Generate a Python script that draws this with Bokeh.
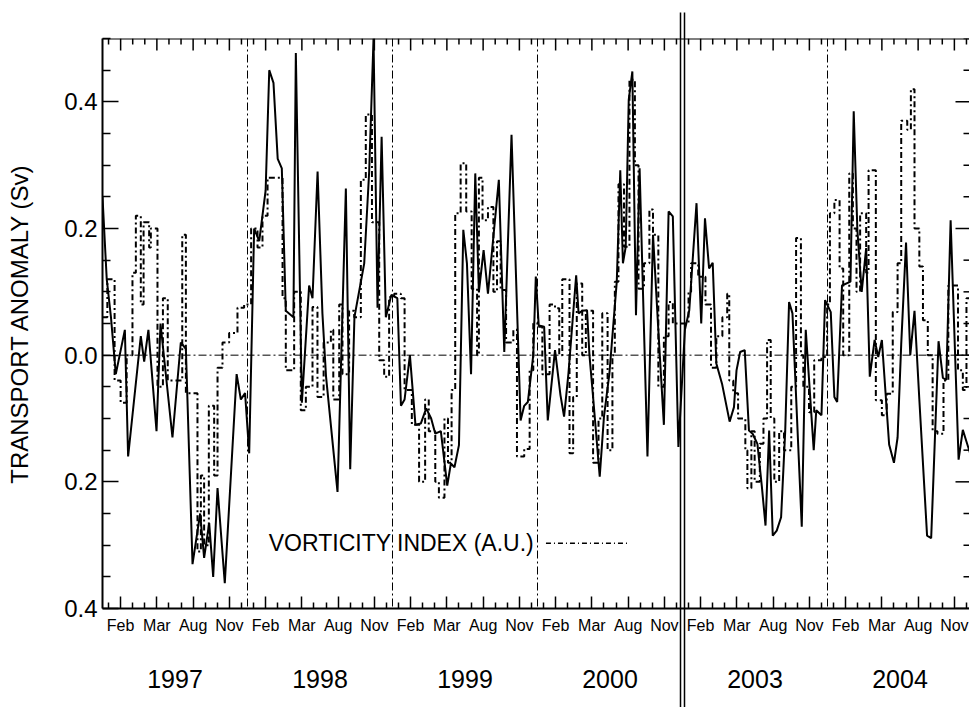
from bokeh.plotting import figure
from bokeh.models import Range1d, LinearAxis, FixedTicker, Span, Label
from bokeh.embed import file_html
from bokeh.resources import INLINE

FONT = "Liberation Sans"

# ---------------- data (x in months since Jan of first plotted year) ----------------
years = ["1997", "1998", "1999", "2000", "2003", "2004"]
month_labels = ["Feb", "Mar", "Aug", "Nov"]
month_label_pos = [1.5, 4.5, 7.5, 10.5]
y_ticks = [-0.4, -0.2, 0.0, 0.2, 0.4]
y_tick_labels = ["0.4", "0.2", "0.0", "0.2", "0.4"]

transport_t = [
    0.0, 0.35, 0.7, 1.1, 1.85, 2.12, 3.17, 3.45, 3.8, 4.47, 4.8, 5.79, 6.48, 6.9,
    7.45, 8.08, 8.41, 8.83, 9.16, 9.52, 10.12, 11.1, 11.45, 11.8, 12.14,
    12.55, 12.97, 13.5, 13.8, 14.15, 14.5, 14.84, 15.17, 15.8, 16.0, 16.5, 17.1,
    17.38, 17.8, 18.2, 18.5, 19.45, 20.14, 20.5, 20.85, 21.66, 22.07, 22.43,
    22.76, 23.1, 23.45, 23.9, 24.4,
    24.7, 25.0, 25.44, 25.9, 26.34, 26.79, 27.2, 27.54, 28.0, 28.53, 28.83,
    29.13, 29.5, 29.86, 30.16, 30.5, 30.85, 31.15, 31.54, 31.9, 32.8, 33.25,
    33.85, 34.6, 34.9, 35.2, 35.65,
    35.86, 36.1, 36.55, 36.85, 37.45, 37.9, 38.2, 38.56, 39.2, 39.4, 39.7, 40.1,
    40.3, 40.6, 41.15, 41.5, 41.95, 42.56, 42.85, 43.07, 43.3, 43.55, 43.85,
    44.15, 44.45, 44.8, 45.1, 45.56, 46.0, 46.46, 46.85, 47.2, 47.66,
    48.2, 48.56, 49.16, 49.55, 49.86, 50.2, 50.5, 50.8, 51.27, 51.9, 52.26,
    52.47, 52.77, 53.15, 53.5, 53.8, 54.2, 54.57, 54.87, 55.17, 55.47, 55.8,
    56.16, 56.5, 56.82, 57.1, 57.87, 58.2, 58.86, 59.07, 59.5, 59.8, 60.27,
    60.57, 60.8, 61.2, 61.9, 62.17, 62.47, 62.83, 63.2, 63.5, 63.9, 64.2, 64.5,
    65.1, 65.5, 65.8, 66.1, 66.5, 66.85, 67.2, 67.6, 68.24, 68.58, 69.19, 69.55,
    69.83, 70.19, 70.85, 71.2, 71.77, 72.0,
]
transport_v = [
    0.25, 0.12, 0.06, -0.03, 0.04, -0.16, 0.03, -0.01, 0.04, -0.12, 0.05, -0.13, 0.02, 0.01,
    -0.33, -0.25, -0.32, -0.265, -0.35, -0.21, -0.36, -0.03, -0.07, -0.06, -0.155,
    0.2, 0.18, 0.26, 0.45, 0.43, 0.31, 0.295, 0.07, 0.06, 0.477, -0.075, 0.11,
    0.09, 0.29, 0.066, -0.034, -0.216, 0.263, -0.18, 0.06, 0.145, 0.29, 0.5,
    0.075, 0.345, 0.06, 0.095, 0.09,
    -0.08, -0.07, 0.0, -0.11, -0.108, -0.084, -0.1, -0.124, -0.12, -0.206, -0.171,
    -0.177, -0.142, 0.198, 0.145, -0.03, 0.287, 0.1, 0.166, 0.097, 0.277, 0.005,
    0.348, -0.103, -0.08, -0.074, 0.0,
    0.124, 0.047, 0.045, -0.103, 0.008, -0.063, -0.097, -0.029, 0.126, 0.066, 0.07, 0.071,
    0.0, -0.066, -0.192, -0.097, -0.029, 0.116, 0.292, 0.145, 0.171, 0.403, 0.448,
    0.063, 0.295, 0.05, -0.16, 0.19, 0.04, -0.11, 0.227, 0.219, -0.145,
    0.04, 0.071, 0.24, 0.05, 0.216, 0.137, 0.146, -0.013, -0.045, -0.105, -0.082,
    -0.024, 0.005, 0.008, -0.119, -0.124, -0.14, -0.208, -0.269, -0.119, -0.285, -0.277,
    -0.256, -0.12, 0.084, 0.066, -0.271, 0.04, -0.15, -0.087, -0.095, 0.087, 0.068,
    -0.066, -0.074, 0.11, 0.116, 0.385, 0.198, 0.1, 0.169, -0.034, 0.024, -0.003, 0.024,
    -0.141, -0.17, -0.13, 0.017, 0.178, 0.0, 0.07, -0.07, -0.285, -0.289, 0.022, -0.036,
    -0.039, 0.213, -0.165, -0.118, -0.153, -0.17,
]

vort_t = [
    0.0, 0.4, 1.0, 1.5, 2.0, 2.48, 2.76, 3.17, 3.4, 3.86, 4.0, 4.55, 5.0, 5.4,
    6.6, 6.9, 7.86, 8.14, 8.41, 8.8, 9.24, 9.52, 9.93, 10.48, 11.17, 11.72,
    12.3, 12.83, 13.24, 13.66, 14.9, 15.17, 15.86, 16.41, 16.83, 17.38, 17.79,
    18.3, 18.9, 19.1, 19.59, 19.86, 20.41, 20.83, 21.38, 21.79, 22.3, 22.9,
    23.31, 23.72, 24.14,
    24.69, 25.0, 25.6, 26.2, 26.7, 27.0, 27.54, 27.84, 28.3, 28.59, 28.89, 29.19,
    29.64, 30.1, 30.55, 31.0, 31.15, 31.45, 31.9, 32.35, 32.65, 32.95, 33.4, 34.0,
    34.3, 34.9, 35.35, 35.65,
    36.1, 36.4, 37.0, 37.45, 37.8, 38.05, 38.65, 38.95, 39.25, 39.7, 40.0, 40.6,
    41.05, 41.36, 41.8, 42.2, 42.4, 42.7, 43.16, 43.61, 44.06, 44.36, 44.81,
    45.26, 45.56, 46.0, 46.46, 46.85, 47.2,
    48.5, 48.71, 49.3, 49.9, 50.36, 50.8, 51.3, 51.7, 51.87, 52.2, 52.6, 53.2,
    53.37, 53.7, 53.97, 54.4, 54.7, 55.0, 55.3, 55.6, 56.0, 56.4, 57.0, 57.4,
    57.8, 58.0, 58.47, 58.9, 59.5,
    59.97, 60.2, 60.57, 61.0, 61.3, 61.8, 62.1, 62.4, 62.7, 63.2, 63.4, 64.0,
    64.5, 64.9, 65.4, 65.8, 66.1, 66.6, 66.9, 67.2, 67.6, 67.9, 68.3, 68.7,
    69.1, 69.6, 70.0, 70.5, 70.8, 71.2, 71.5,
]
vort_v = [
    0.06, 0.12, -0.04, -0.075, 0.0, 0.13, 0.22, 0.08, 0.21, 0.17, 0.2, -0.05, 0.09, -0.04,
    0.19, -0.06, -0.31, -0.19, -0.3, -0.08, -0.19, -0.02, 0.02, 0.035, 0.075, 0.08,
    0.2, 0.17, 0.22, 0.28, 0.09, -0.024, 0.1, -0.087, -0.05, 0.076, -0.066,
    0.02, 0.04, -0.07, 0.08, -0.03, 0.07, 0.06, 0.277, 0.38, 0.21, -0.008,
    -0.034, 0.092, 0.097,
    0.09, -0.055, -0.11, -0.2, -0.07, -0.12, -0.2, -0.225, -0.1, -0.17, -0.055, 0.224,
    0.303, 0.227, 0.105, 0.0, 0.28, 0.213, 0.234, 0.1, 0.18, 0.103, 0.02, 0.04,
    -0.16, -0.148, -0.024, 0.05,
    0.045, -0.03, 0.08, 0.074, 0.0, 0.12, -0.155, -0.066, 0.113, 0.0, 0.07, -0.17,
    -0.1, 0.066, -0.15, 0.0, 0.116, 0.27, 0.171, 0.435, 0.3, 0.105, 0.145,
    0.23, 0.19, -0.05, 0.03, 0.084, 0.05,
    0.1, 0.145, 0.124, 0.08, -0.02, 0.03, 0.06, 0.097, -0.04, -0.06, -0.1, -0.15,
    -0.21, -0.12, -0.2, -0.14, -0.1, 0.024, -0.1, -0.2, -0.12, -0.15, -0.05, 0.185,
    0.0, -0.05, -0.09, -0.008, -0.003,
    0.08, 0.224, 0.245, 0.137, 0.0, 0.287, 0.2, 0.1, 0.224, 0.13, 0.292, -0.071,
    -0.095, -0.061, 0.068, 0.145, 0.37, 0.356, 0.42, 0.2, 0.14, 0.055, 0.0, -0.12,
    -0.124, -0.04, 0.11, 0.11, -0.024, -0.055, 0.09,
]

y_label = "TRANSPORT ANOMALY (Sv)"
legend_label = "VORTICITY INDEX (A.U.)"

# ---------------- derived ----------------
n_years = len(years)
x_end_total = 12 * n_years
major_x = [12 * i + m for i in range(n_years) for m in month_label_pos]
all_month_centres = [k + 0.5 for k in range(x_end_total)]
minor_x = [t for t in all_month_centres if t not in major_x]
month_overrides = {12 * i + m: lab for i in range(n_years) for m, lab in zip(month_label_pos, month_labels)}
year_mid = [12 * i + 6 for i in range(n_years)]
year_overrides = {12 * i + 6: y for i, y in enumerate(years)}
Y0, Y1 = -0.4, 0.5
y_minor = [round(Y0 + 0.05 * k, 2) for k in range(19)]
y_minor = [v for v in y_minor if v not in y_ticks]
y_overrides = {v: s for v, s in zip(y_ticks, y_tick_labels)}

PX_PER_MONTH = 870.0 / 72.0
FRAME_W = 867
FRAME_H = 570
TOP = 38
BOTTOM = 99
X_END = FRAME_W / PX_PER_MONTH
PX_PER_Y = FRAME_H / (Y1 - Y0)

p = figure(
    frame_width=FRAME_W, frame_height=FRAME_H,
    x_range=Range1d(0, X_END), y_range=Range1d(Y0, Y1),
    output_backend="svg", toolbar_location=None,
    x_axis_location=None, y_axis_location=None,
    min_border_left=102, min_border_top=TOP, min_border_bottom=BOTTOM, min_border_right=0,
)
p.outline_line_color = None
p.xgrid.visible = False
p.ygrid.visible = False
p.background_fill_color = "white"
p.border_fill_color = "white"

def style_ticks(ax, maj, mnr):
    ax.major_tick_in = maj
    ax.major_tick_out = 0
    ax.minor_tick_in = mnr
    ax.minor_tick_out = 0
    ax.major_tick_line_width = 1.5
    ax.minor_tick_line_width = 1.5
    ax.major_tick_line_color = "black"
    ax.minor_tick_line_color = "black"
    ax.axis_line_width = 2
    ax.axis_line_color = "black"

# bottom month axis
xb = LinearAxis(ticker=FixedTicker(ticks=major_x, minor_ticks=minor_x),
                major_label_overrides=month_overrides)
style_ticks(xb, 12, 6)
xb.major_label_text_font = FONT
xb.major_label_text_font_size = "16px"
xb.major_label_text_color = "black"
xb.major_label_standoff = 8
p.add_layout(xb, "below")

# year labels axis
xy = LinearAxis(ticker=FixedTicker(ticks=year_mid, minor_ticks=[]),
                major_label_overrides=year_overrides)
xy.axis_line_color = None
xy.major_tick_line_color = None
xy.minor_tick_line_color = None
xy.major_tick_in = 0
xy.major_tick_out = 0
xy.major_label_text_font = FONT
xy.major_label_text_font_size = "25px"
xy.major_label_text_color = "black"
xy.major_label_standoff = 33
p.add_layout(xy, "below")

# left axis
yl = LinearAxis(ticker=FixedTicker(ticks=y_ticks, minor_ticks=y_minor),
                major_label_overrides=y_overrides, axis_label=y_label)
style_ticks(yl, 16, 8)
yl.major_label_text_font = FONT
yl.major_label_text_font_size = "24px"
yl.major_label_text_color = "black"
yl.major_label_standoff = 5
yl.axis_label_text_font = FONT
yl.axis_label_text_font_size = "24px"
yl.axis_label_text_font_style = "normal"
yl.axis_label_text_color = "black"
yl.axis_label_standoff = 28
p.add_layout(yl, "left")

# top axis line and inward ticks (no labels), right inward ticks (axis line off-page)
p.add_layout(Span(location=Y1, dimension="width", line_color="black", line_width=2))
top_len_major = 12 / PX_PER_Y
top_len_minor = 6 / PX_PER_Y
p.segment(x0=major_x, y0=[Y1] * len(major_x), x1=major_x,
          y1=[Y1 - top_len_major] * len(major_x), line_color="black", line_width=1.5)
p.segment(x0=minor_x, y0=[Y1] * len(minor_x), x1=minor_x,
          y1=[Y1 - top_len_minor] * len(minor_x), line_color="black", line_width=1.5)
right_len_major = 14 / PX_PER_MONTH
right_len_minor = 6 / PX_PER_MONTH
p.segment(x0=[X_END - right_len_major] * len(y_ticks), y0=y_ticks,
          x1=[X_END] * len(y_ticks), y1=y_ticks, line_color="black", line_width=1.5)
p.segment(x0=[X_END - right_len_minor] * len(y_minor), y0=y_minor,
          x1=[X_END] * len(y_minor), y1=y_minor, line_color="black", line_width=1.5)

# reference lines: dash-dot at consecutive-year boundaries, double line at the record gap
p.add_layout(Span(location=0, dimension="width", line_color="black",
                  line_width=1, line_dash="8 3 2 3"))
gap_lines = []
for i in range(1, n_years):
    b = 12 * i
    if int(years[i]) - int(years[i - 1]) > 1:
        gap_lines += [b - 0.14, b + 0.14]
    else:
        p.add_layout(Span(location=b, dimension="height", line_color="black",
                          line_width=1, line_dash="8 3 2 3"))

# the double break line runs from above the frame to the bottom of the page:
# drawn as the (unclipped) minor ticks of a label-less top axis
gap_axis = LinearAxis(ticker=FixedTicker(ticks=[], minor_ticks=gap_lines))
gap_axis.axis_line_color = None
gap_axis.major_tick_line_color = None
gap_axis.major_tick_in = 0
gap_axis.major_tick_out = 0
gap_axis.major_label_standoff = 0
gap_axis.minor_tick_out = TOP - 12
gap_axis.minor_tick_in = FRAME_H + BOTTOM
gap_axis.minor_tick_line_color = "black"
gap_axis.minor_tick_line_width = 1.5
p.add_layout(gap_axis, "above")

# series
p.step(vort_t + [x_end_total], vort_v + [vort_v[-1]], mode="after",
       line_color="black", line_width=2, line_dash="6 3 2 3")
p.line(transport_t, transport_v, line_color="black", line_width=2)

# legend
p.add_layout(Label(x=13.76, y=-0.297, text=legend_label, text_baseline="middle",
                   text_align="left", text_font=FONT, text_font_size="23px",
                   text_color="black"))
p.line([36.7, 43.5], [-0.297, -0.297], line_color="black", line_width=1.5,
       line_dash="5 3 1 3")

open("out.html", "w").write(file_html(p, INLINE))
